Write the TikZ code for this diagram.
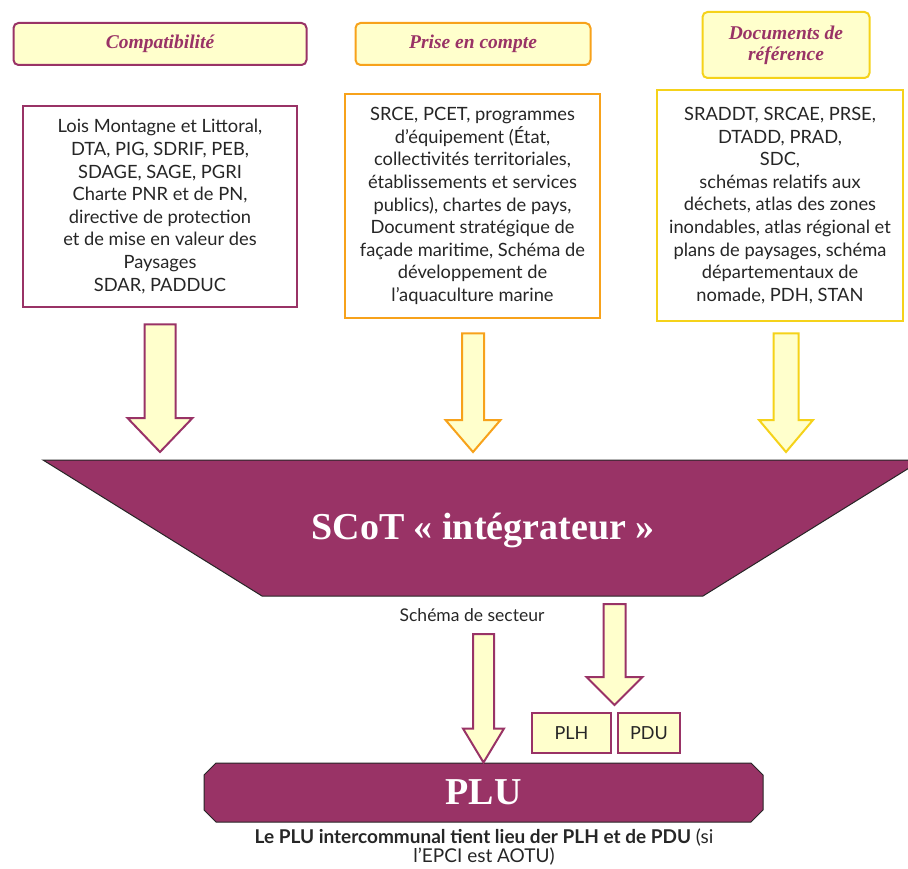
\documentclass[tikz,border=0pt]{standalone}
\usepackage{fontspec}
\setmainfont{Liberation Serif}
\setsansfont{Lato}
\usepackage{tikz}
\usetikzlibrary{calc,positioning,shapes.misc}
\tikzset{every picture/.append style={font=\sffamily}}
\definecolor{figplum}{HTML}{993366}
\definecolor{figorange}{HTML}{F7A21B}
\definecolor{figgold}{HTML}{F5D21A}
\definecolor{figcream}{HTML}{FFFFCC}
\definecolor{figink}{HTML}{262626}
\tikzset{
  header/.style={draw=#1,fill=figcream,line width=2pt,rounded corners=5pt,align=center,
    text=figplum,font=\rmfamily\bfseries\itshape\fontsize{19.5}{21}\selectfont},
  listbox/.style={draw=#1,fill=white,line width=2.5pt,align=center,text=figink,inner sep=0pt,
    font=\sffamily\fontsize{18.3}{22.6}\selectfont},
  smallbox/.style={draw=figplum,fill=figcream,line width=2pt,minimum height=40pt,
    text=figink,font=\sffamily\fontsize{18}{20}\selectfont},
  bigtitle/.style={text=white,font=\rmfamily\bfseries\fontsize{#1}{#1}\selectfont}
}
\newcommand{\blockarrow}[6]{%
  \draw[draw=#1,fill=figcream,line width=2pt,line join=miter]
    let \p1=(#2), \p2=(#3) in
    (\x2-#4pt,\y1) -- (\x2+#4pt,\y1) -- (\x2+#4pt,\y2+#6pt) -- (\x2+#5pt,\y2+#6pt)
    -- (\p2) -- (\x2-#5pt,\y2+#6pt) -- (\x2-#4pt,\y2+#6pt) -- cycle;}

\begin{document}
\begin{tikzpicture}[x=1pt,y=-1pt]
    \useasboundingbox (0,0) rectangle (908,869);
    \node[header=figplum,minimum width=293pt,minimum height=42pt] (compat) at (160,44) {Compatibilité};
    \node[header=figorange,minimum width=235pt,minimum height=42pt] (prise) at (473,44) {Prise en compte};
    \node[header=figgold,minimum width=167pt,minimum height=66pt] (refdocs) at (786,45) {Documents de\\référence};
    \node[listbox=figplum,minimum width=274pt,minimum height=201pt] (box1) at (160,206.5)
      {Lois Montagne et Littoral,\\DTA, PIG, SDRIF, PEB,\\SDAGE, SAGE, PGRI\\Charte PNR et de PN,\\
       directive de protection\\et de mise en valeur des\\Paysages\\SDAR, PADDUC};
    \node[listbox=figorange,minimum width=255pt,minimum height=224pt] (box2) at (472.5,206)
      {SRCE, PCET, programmes\\d’équipement (État,\\collectivités territoriales,\\établissements et services\\
       publics), chartes de pays,\\Document stratégique de\\façade maritime, Schéma de\\développement de\\l’aquaculture marine};
    \node[listbox=figgold,minimum width=246pt,minimum height=231pt] (box3) at (780,205.5)
      {SRADDT, SRCAE, PRSE,\\DTADD, PRAD,\\SDC,\\schémas relatifs aux\\déchets, atlas des zones\\
       inondables, atlas régional et\\plans de paysages, schéma\\départementaux de\\nomade, PDH, STAN};
    \coordinate (ttop) at (483,460);
    \draw[fill=figplum,draw=figink,line width=1pt] (43,460) -- (922,460) -- (703,596) -- (262,596) -- cycle;
    \node[bigtitle=38] (scot) at (483,530) {SCoT « intégrateur »};
    \blockarrow{figplum}{$(compat.south |- box1.south)+(0,16)$}{$(compat.south |- ttop)+(0,-8)$}{15.5}{32.5}{34}
    \blockarrow{figorange}{$(prise.south |- box2.south)+(0,14)$}{$(prise.south |- ttop)+(0,-8)$}{11}{27.5}{32}
    \blockarrow{figgold}{$(refdocs.south |- box3.south)+(0,11)$}{$(refdocs.south |- ttop)+(0,-8)$}{12.5}{27}{32}
    \node[font=\sffamily\fontsize{17.5}{19}\selectfont,text=figink] (secteur) at (472,615) {Schéma de secteur};
    \node[smallbox,minimum width=79pt] (plh) at (571.5,733) {PLH};
    \node[smallbox,minimum width=62pt] (pdu) at (649,733) {PDU};
    \node[chamfered rectangle,chamfered rectangle xsep=6pt,chamfered rectangle ysep=6pt,
      fill=figplum,draw=figink,line width=1pt,minimum width=559pt,minimum height=59pt,inner sep=0pt,
      bigtitle=38] (plu) at (483.5,792.5) {PLU};
    \blockarrow{figplum}{$(plu.north |- secteur.south)+(0,9)$}{plu.north}{10.5}{20.5}{34}
    \blockarrow{figplum}{$(plh.north east)!0.5!(pdu.north west)+(0,-108)$}{$(plh.north east)!0.5!(pdu.north west)+(0,-7)$}{11}{28}{28}
    \node[align=center,text=figink,font=\sffamily\fontsize{19}{19}\selectfont] (note) at (484,847)
      {\textbf{Le PLU intercommunal tient lieu der PLH et de PDU} (si\\l’EPCI est AOTU)};
  \end{tikzpicture}
\end{document}
